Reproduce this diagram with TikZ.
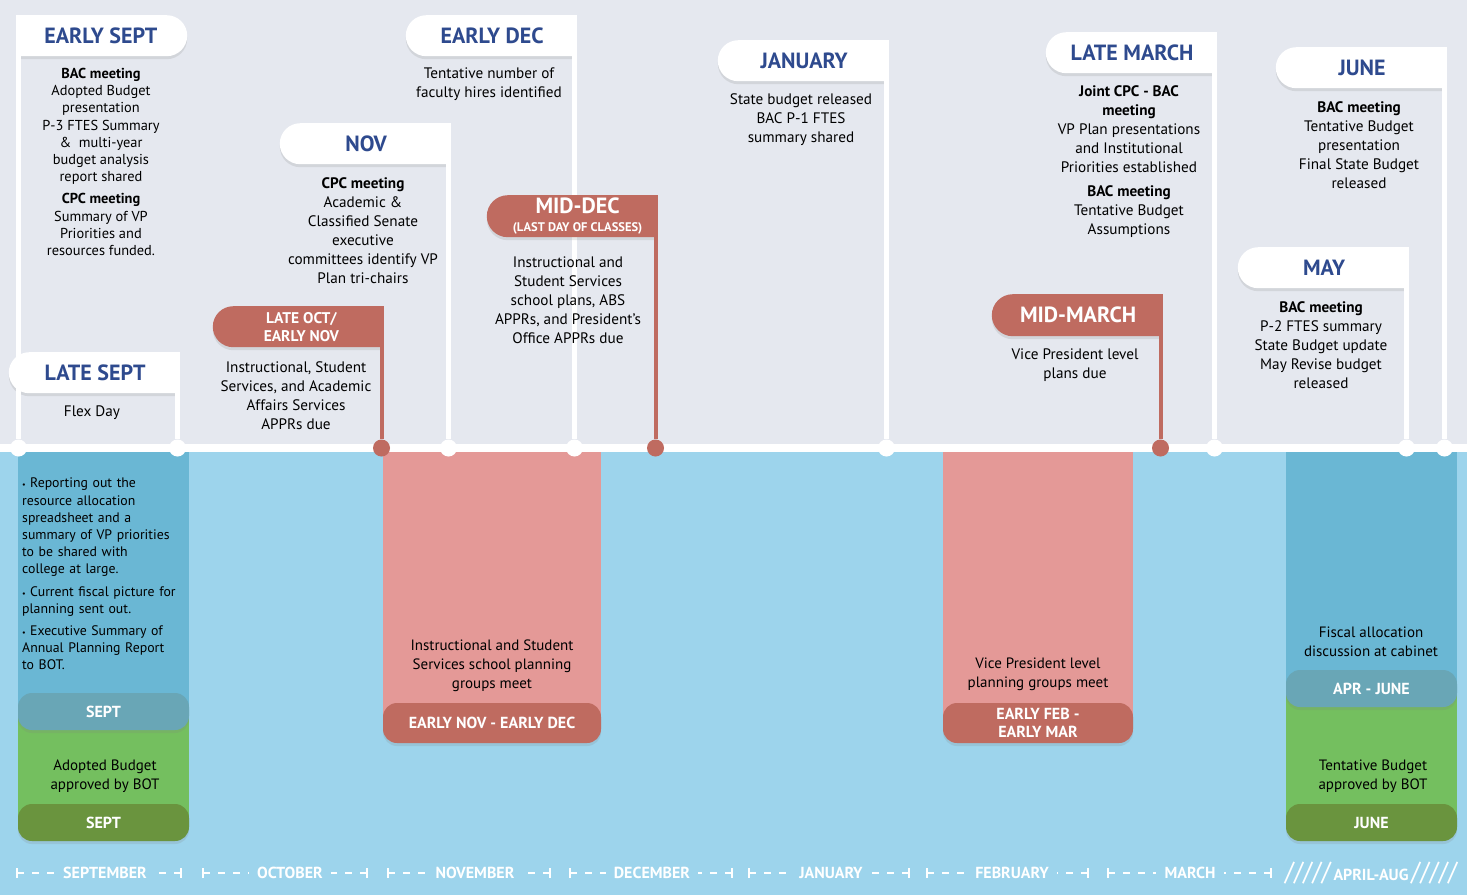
\documentclass[tikz,border=0pt]{standalone}
\usepackage{fontspec}
\setmainfont{PT Sans}
\usetikzlibrary{positioning, shapes.misc, shadows, arrows.meta}
\definecolor{Mist}{HTML}{E5E8EF}
\definecolor{Sky}{HTML}{9DD4EC}
\definecolor{Ocean}{HTML}{6AB7D4}
\definecolor{Slate}{HTML}{69A6B6}
\definecolor{Leaf}{HTML}{74BF5F}
\definecolor{Moss}{HTML}{6A943E}
\definecolor{Blush}{HTML}{E49997}
\definecolor{Brick}{HTML}{BF6B60}
\definecolor{Navy}{HTML}{2E4A8E}

\begin{document}
\begin{tikzpicture}[
    x=1pt, y=-1pt,
    flag/.style={
        rounded rectangle, fill=white, minimum width=171pt, minimum height=41pt,
        inner sep=0pt, text=Navy, font=\fontsize{22}{24}\selectfont\bfseries,
        drop shadow={opacity=0.18, shadow xshift=0pt, shadow yshift=-3pt}
    },
    flagleft/.style={flag, rounded rectangle right arc=none},
    flagright/.style={flag, rounded rectangle left arc=none},
    redflag/.style={flagleft, fill=Brick, text=white},
    wdot/.style={circle, fill=white, minimum size=17pt, inner sep=0pt},
    rdot/.style={wdot, fill=Brick},
    flagpole/.style={white, line width=5pt},
    redpole/.style={Brick, line width=4pt},
    body/.style={align=center, inner sep=0pt, anchor=north, font=\fontsize{15.2}{19}\selectfont},
    pill/.style={
        rounded corners=14pt, minimum width=171pt, minimum height=37pt, inner sep=0pt,
        text=white, font=\fontsize{16}{18.5}\selectfont\bfseries,
        drop shadow={opacity=0.18, shadow xshift=0pt, shadow yshift=-3pt}
    },
    note/.style={align=center, inner sep=0pt, anchor=north, font=\fontsize{15}{18.7}\selectfont},
    monthspan/.style={white, line width=1.6pt, dash pattern=on 7pt off 8pt, {Bar[width=10pt]}-},
    monthlbl/.style={text=white, inner xsep=8pt, inner ysep=2pt, font=\fontsize{16}{18}\selectfont\bfseries}
]
\useasboundingbox (0,0) rectangle (1467,895);

% =============================================
% BACKGROUND
% =============================================
\fill[Mist] (0,0) rectangle (1467,452);
\fill[Sky] (0,452) rectangle (1467,895);

% =============================================
% LOWER BANDS
% =============================================
\fill[Ocean] (18,452) rectangle (189,712);
\fill[Leaf] (18,712) rectangle (189,822);
\fill[Blush] (383,452) rectangle (601,722);
\fill[Blush] (943,452) rectangle (1133,722);
\fill[Ocean] (1286,452) rectangle (1457,689);
\fill[Leaf] (1286,689) rectangle (1457,822);

\node[pill, fill=Slate] (septtalk) at (103.5,711.5) {SEPT};
\node[pill, fill=Moss] (septboard) at (103.5,822.5) {SEPT};
\node[pill, fill=Brick, minimum width=218pt, minimum height=40pt] (novdec) at (492,723) {EARLY NOV - EARLY DEC};
\node[pill, fill=Brick, minimum width=190pt, minimum height=40pt, align=center] (febmar) at (1038,723) {EARLY FEB -\\EARLY MAR};
\node[pill, fill=Slate] (aprjune) at (1371.5,688.5) {APR - JUNE};
\node[pill, fill=Moss] (juneboard) at (1371.5,822.5) {JUNE};

% =============================================
% TIMELINE
% =============================================
\draw[white, line width=8pt] (0,448) -- (1467,448);

\node[wdot] (dearlysept) at (18.5,448) {};
\node[wdot] (dlatesept) at (177.5,448) {};
\node[rdot] (dlateoct) at (381.5,448) {};
\node[wdot] (dnov) at (448.5,448) {};
\node[wdot] (dearlydec) at (574.5,448) {};
\node[rdot] (dmiddec) at (655.5,448) {};
\node[wdot] (djanuary) at (886.5,448) {};
\node[rdot] (dmidmarch) at (1160.5,448) {};
\node[wdot] (dlatemarch) at (1214.5,448) {};
\node[wdot] (dmay) at (1406.5,448) {};
\node[wdot] (djune) at (1444.5,448) {};

% =============================================
% WHITE FLAGS
% =============================================
\node[flagright, anchor=north west] (earlysept) at (16,15) {EARLY SEPT};
\node[flagleft, anchor=north east] (latesept) at (180,352) {LATE SEPT};
\node[flagleft, anchor=north east] (nov) at (451,123) {NOV};
\node[flagleft, anchor=north east] (earlydec) at (577,15) {EARLY DEC};
\node[flagleft, anchor=north east] (january) at (889,40) {JANUARY};
\node[flagleft, anchor=north east] (latemarch) at (1217,32) {LATE MARCH};
\node[flagleft, anchor=north east] (june) at (1447,47) {JUNE};
\node[flagleft, anchor=north east] (may) at (1409,247) {MAY};

\draw[flagpole] (dearlysept) -- (dearlysept |- earlysept.north);
\draw[flagpole] (dlatesept) -- (dlatesept |- latesept.north);
\draw[flagpole] (dnov) -- (dnov |- nov.north);
\draw[flagpole] (dearlydec) -- (dearlydec |- earlydec.north);
\draw[flagpole] (djanuary) -- (djanuary |- january.north);
\draw[flagpole] (dlatemarch) -- (dlatemarch |- latemarch.north);
\draw[flagpole] (dmay) -- (dmay |- may.north);
\draw[flagpole] (djune) -- (djune |- june.north);

% =============================================
% RED FLAGS (deadlines)
% =============================================
\node[redflag, anchor=north east, align=center, font=\fontsize{15.5}{18}\selectfont\bfseries] (lateoct) at (384,306) {LATE OCT/\\EARLY NOV};
\node[redflag, anchor=north east, align=center, minimum height=42pt] (middec) at (658,195)
    {MID-DEC\\[-6pt]{\fontsize{12.5}{13}\selectfont (LAST DAY OF CLASSES)}};
\node[redflag, anchor=north east, minimum height=42pt] (midmarch) at (1163,294) {MID-MARCH};

\draw[redpole] (dlateoct) -- (dlateoct |- lateoct.north);
\draw[redpole] (dmiddec) -- (dmiddec |- middec.north);
\draw[redpole] (dmidmarch) -- (dmidmarch |- midmarch.north);

% =============================================
% EVENT TEXT
% =============================================
\node[body, font=\fontsize{14.4}{17.2}\selectfont] (earlyseptnote) at (101,68)
    {\textbf{BAC meeting}\\Adopted Budget\\presentation\\P-3 FTES Summary\\\&~ multi-year\\budget analysis\\report shared\\[5pt]\textbf{CPC meeting}\\Summary of VP\\Priorities and\\resources funded.};
\node[body] (flexday) at (92,406) {Flex Day};
\node[body] (novnote) at (363,177)
    {\textbf{CPC meeting}\\Academic \&\\Classified Senate\\executive\\committees identify VP\\Plan tri-chairs};
\node[body] (earlydecnote) at (489,68) {Tentative number of\\faculty hires identified};
\node[body] (januarynote) at (801,93) {State budget released\\BAC P-1 FTES\\summary shared};
\node[body] (latemarchnote) at (1129,85)
    {\textbf{Joint CPC - BAC}\\\textbf{meeting}\\VP Plan presentations\\and Institutional\\Priorities established\\[5pt]\textbf{BAC meeting}\\Tentative Budget\\Assumptions};
\node[body] (junenote) at (1359,101)
    {\textbf{BAC meeting}\\Tentative Budget\\presentation\\Final State Budget\\released};
\node[body] (maynote) at (1321,301)
    {\textbf{BAC meeting}\\P-2 FTES summary\\State Budget update\\May Revise budget\\released};
\node[body] (lateoctnote) at (296,361)
    {Instructional, Student\\Services, and Academic\\Affairs Services\\APPRs due};
\node[body] (middecnote) at (568,257)
    {Instructional and\\Student Services\\school plans, ABS\\APPRs, and President’s\\Office APPRs due};
\node[body] (midmarchnote) at (1075,349) {Vice President level\\plans due};

% lower band text
\node[note, anchor=north west, align=left, text width=180pt, font=\fontsize{13.8}{17.2}\selectfont] (septlist) at (22,478) {%
    \hangindent=8pt\hangafter=1\makebox[8pt][l]{\fontsize{8}{8}\selectfont\textbullet}Reporting out the\\resource allocation\\spreadsheet and a\\summary of VP priorities\\to be shared with\\college at large.\par\vspace{5pt}
    \hangindent=8pt\hangafter=1\makebox[8pt][l]{\fontsize{8}{8}\selectfont\textbullet}Current fiscal picture for\\planning sent out.\par\vspace{5pt}
    \hangindent=8pt\hangafter=1\makebox[8pt][l]{\fontsize{8}{8}\selectfont\textbullet}Executive Summary of\\Annual Planning Report\\to BOT.\par};
\node[note] (septadopt) at (105,760) {Adopted Budget\\approved by BOT};
\node[note] (novdecnote) at (492,640) {Instructional and Student\\Services school planning\\groups meet};
\node[note] (febmarnote) at (1038,658) {Vice President level\\planning groups meet};
\node[note] (aprjunenote) at (1371,627) {Fiscal allocation\\discussion at cabinet};
\node[note] (juneadopt) at (1373,760) {Tentative Budget\\approved by BOT};

% =============================================
% MONTH AXIS
% =============================================
\node[monthlbl] (msep) at (105,873) {SEPTEMBER};
\draw[monthspan] (16,873) -- (msep.west);
\draw[monthspan] (182,873) -- (msep.east);
\node[monthlbl] (moct) at (290,873) {OCTOBER};
\draw[monthspan] (202,873) -- (moct.west);
\draw[monthspan] (368,873) -- (moct.east);
\node[monthlbl] (mnov) at (475,873) {NOVEMBER};
\draw[monthspan] (387,873) -- (mnov.west);
\draw[monthspan] (551,873) -- (mnov.east);
\node[monthlbl] (mdec) at (652,873) {DECEMBER};
\draw[monthspan] (569,873) -- (mdec.west);
\draw[monthspan] (733,873) -- (mdec.east);
\node[monthlbl] (mjan) at (831,873) {JANUARY};
\draw[monthspan] (748,873) -- (mjan.west);
\draw[monthspan] (910,873) -- (mjan.east);
\node[monthlbl] (mfeb) at (1012,873) {FEBRUARY};
\draw[monthspan] (926,873) -- (mfeb.west);
\draw[monthspan] (1089,873) -- (mfeb.east);
\node[monthlbl] (mmar) at (1190,873) {MARCH};
\draw[monthspan] (1107,873) -- (mmar.west);
\draw[monthspan] (1272,873) -- (mmar.east);
\node[monthlbl, inner xsep=0pt] (maprilaug) at (1371,873)
    {{\fontsize{26}{26}\selectfont\mdseries/////}\,APRIL-AUG\,{\fontsize{26}{26}\selectfont\mdseries/////}};

\end{tikzpicture}
\end{document}
